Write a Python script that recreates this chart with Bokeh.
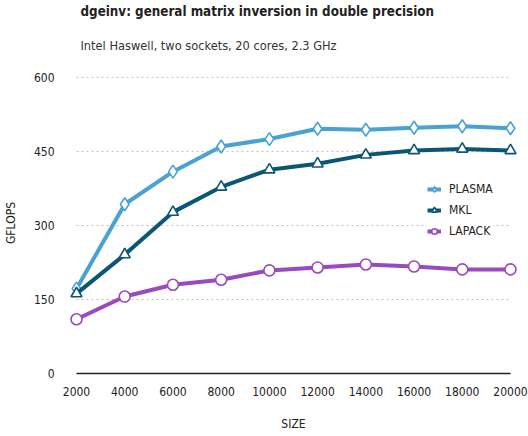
from bokeh.plotting import figure
from bokeh.models import Range1d, Title, Legend, LegendItem, FixedTicker
from bokeh.embed import file_html
from bokeh.resources import INLINE

sizes = [2000, 4000, 6000, 8000, 10000, 12000, 14000, 16000, 18000, 20000]
plasma = [172, 343, 409, 460, 475, 496, 494, 498, 501, 497]
mkl = [162, 241, 327, 378, 413, 425, 443, 452, 455, 452]
lapack = [110, 156, 180, 190, 209, 215, 221, 217, 211, 211]
y_ticks = [0, 150, 300, 450, 600]
x_ticks = sizes

FONT = "DejaVu Sans Condensed"
C_PLASMA = "#47a3d2"
C_MKL = "#0c5675"
C_LAPACK = "#9a49bf"

p = figure(frame_width=450, frame_height=311, output_backend="svg", toolbar_location=None,
           x_range=Range1d(1668, 20332), y_range=Range1d(-10, 620),
           min_border_left=60, min_border_right=10, min_border_top=59, min_border_bottom=10)
p.outline_line_color = None
p.xgrid.visible = False
p.ygrid.visible = False

# gridlines and baseline
grid_y = [t for t in y_ticks if t > 0]
p.segment(x0=[min(sizes)] * len(grid_y), x1=[max(sizes)] * len(grid_y), y0=grid_y, y1=grid_y,
          line_color="#bdbdbd", line_width=1, line_dash="2 3")
p.segment(x0=[min(sizes)], x1=[max(sizes)], y0=[y_ticks[0]], y1=[y_ticks[0]],
          line_color="#222222", line_width=1.5)

series = [("PLASMA", plasma, C_PLASMA, "diamond", 13),
          ("MKL", mkl, C_MKL, "triangle", 11),
          ("LAPACK", lapack, C_LAPACK, "circle", 11)]
items = []
for name, vals, col, mk, sz in series:
    l = p.line(sizes, vals, line_color=col, line_width=4)
    m = p.scatter(sizes, vals, marker=mk, size=sz, fill_color="white", line_color=col, line_width=1.6)
    items.append(LegendItem(label=name, renderers=[l, m]))

legend = Legend(items=items, location=(359, 138), background_fill_color="white",
                background_fill_alpha=1, border_line_color=None,
                label_text_font=FONT, label_text_font_size="12px", label_text_color="#222222",
                glyph_width=14, glyph_height=16, label_height=18, spacing=3, padding=4, margin=0,
                label_standoff=8)
p.add_layout(legend, "center")

for ax in (p.xaxis[0], p.yaxis[0]):
    ax.axis_line_color = None
    ax.major_tick_line_color = None
    ax.minor_tick_line_color = None
    ax.major_label_text_font = FONT
    ax.major_label_text_font_size = "12px"
    ax.major_label_text_color = "#222222"
    ax.axis_label_text_font = FONT
    ax.axis_label_text_font_size = "12px"
    ax.axis_label_text_font_style = "normal"
    ax.axis_label_text_color = "#222222"

p.xaxis.ticker = FixedTicker(ticks=x_ticks)
p.yaxis.ticker = FixedTicker(ticks=y_ticks)
p.xaxis.axis_label = "SIZE"
p.yaxis.axis_label = "GFLOPS"
p.xaxis.major_label_standoff = 2
p.yaxis.major_label_standoff = 8
p.xaxis.axis_label_standoff = 18
p.yaxis.axis_label_standoff = 13

p.add_layout(Title(text="Intel Haswell, two sockets, 20 cores, 2.3 GHz", align="left", offset=12,
                   text_font=FONT, text_font_size="12.7px", text_font_style="normal",
                   text_color="#333333", standoff=30), "above")
p.add_layout(Title(text="dgeinv: general matrix inversion in double precision", align="left", offset=12,
                   text_font=FONT, text_font_size="13.3px", text_font_style="bold",
                   text_color="#222222", standoff=3), "above")

open("out.html", "w").write(file_html(p, INLINE))
